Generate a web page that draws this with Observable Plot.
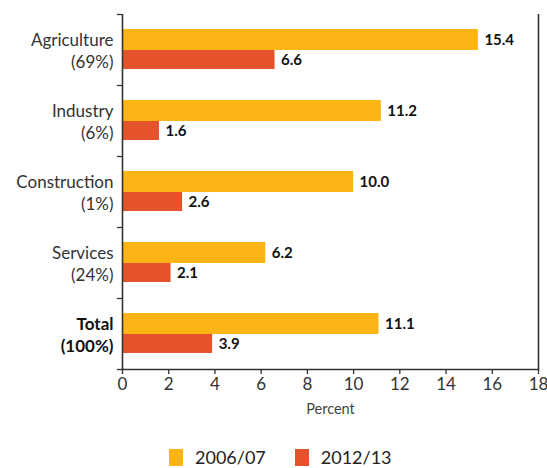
<!DOCTYPE html>
<html>
<head>
<meta charset="utf-8">
<script src="https://cdn.jsdelivr.net/npm/d3@7"></script>
<script src="https://cdn.jsdelivr.net/npm/@observablehq/plot@0.6"></script>
<style>
  html, body { margin: 0; padding: 0; background: #fff; }
  #chart svg { display: block; }
  #legend { display: flex; align-items: center; padding-left: 169px; margin-top: 13px; font-family: Lato, "Open Sans", sans-serif; font-size: 18px; line-height: 17px; color: #222; }
  #legend .item { display: flex; align-items: center; margin-right: 29px; }
  #legend .sw { width: 14px; height: 17px; margin-right: 12px; }
</style>
</head>
<body>
<div id="chart"></div>
<div id="legend"></div>
<script>
const categories = ["Agriculture", "Industry", "Construction", "Services", "Total"];
const shares = ["(69%)", "(6%)", "(1%)", "(24%)", "(100%)"];
const values2006 = [15.4, 11.2, 10.0, 6.2, 11.1];
const values2012 = [6.6, 1.6, 2.6, 2.1, 3.9];
const seriesNames = ["2006/07", "2012/13"];
const seriesColors = ["#FDB515", "#E5532D"];
const xTicks = [0, 2, 4, 6, 8, 10, 12, 14, 16, 18];
const xLabel = "Percent";
const totalCategory = "Total";

const rows = categories.map((c, i) => ({cat: c, share: shares[i], a: values2006[i], b: values2012[i]}));
const lastCat = [categories[categories.length - 1]];

const chart = Plot.plot({
  width: 547,
  height: 436,
  marginLeft: 122,
  marginRight: 9,
  marginTop: 14,
  marginBottom: 67,
  style: {fontFamily: "Lato, 'Open Sans', sans-serif", color: "#333", background: "#fff"},
  x: {domain: [0, 18]},
  y: {domain: categories, padding: 0, axis: null},
  marks: [
    Plot.barX(rows, {x: "a", y: "cat", fill: seriesColors[0], insetTop: 15, insetBottom: 35}),
    Plot.barX(rows, {x: "b", y: "cat", fill: seriesColors[1], insetTop: 36, insetBottom: 16}),
    Plot.text(rows, {x: "a", y: "cat", text: d => d.a.toFixed(1), dx: 6, dy: -10, textAnchor: "start", fontWeight: "bold", fontSize: 15, fill: "#111"}),
    Plot.text(rows, {x: "b", y: "cat", text: d => d.b.toFixed(1), dx: 6, dy: 10, textAnchor: "start", fontWeight: "bold", fontSize: 15, fill: "#111"}),
    Plot.text(rows.filter(d => d.cat !== totalCategory), {x: 0, y: "cat", text: d => d.cat + "\n" + d.share, dx: -9, textAnchor: "end", fontSize: 17, lineHeight: 1.3, fill: "#333"}),
    Plot.text(rows.filter(d => d.cat === totalCategory), {x: 0, y: "cat", text: d => d.cat + "\n" + d.share, dx: -9, textAnchor: "end", fontSize: 17, lineHeight: 1.3, fontWeight: "bold", fill: "#111"}),
    Plot.axisX({ticks: xTicks, tickSize: 5, tickPadding: 3, fontSize: 17, label: null, strokeWidth: 1.3}),
    Plot.text([xLabel], {frameAnchor: "bottom", dy: 44, fontSize: 14.5, fill: "#444"}),
    Plot.ruleY(categories, {y: d => d, x1: 0, x2: 0, insetLeft: -5, dy: -35.5, stroke: "#333", strokeWidth: 1.3}),
    Plot.ruleY(lastCat, {y: d => d, x1: 0, x2: 0, insetLeft: -5, dy: 35.5, stroke: "#333", strokeWidth: 1.3}),
    Plot.ruleX([0, 18], {stroke: "#333", strokeWidth: 1.6}),
    Plot.frame({anchor: "bottom", stroke: "#333", strokeWidth: 1.6})
  ]
});
document.getElementById("chart").append(chart);

const legend = document.getElementById("legend");
seriesNames.forEach((name, i) => {
  const item = document.createElement("div");
  item.className = "item";
  const sw = document.createElement("span");
  sw.className = "sw";
  sw.style.background = seriesColors[i];
  const label = document.createElement("span");
  label.textContent = name;
  item.append(sw, label);
  legend.append(item);
});
</script>
</body>
</html>
